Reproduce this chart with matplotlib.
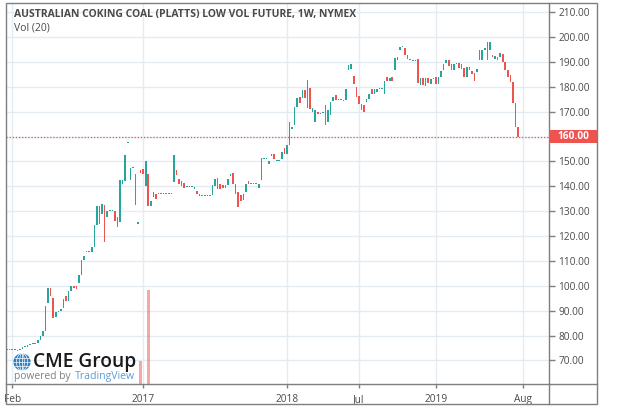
import numpy as np
import matplotlib.pyplot as plt
import matplotlib.transforms as mtransforms
from matplotlib.patches import Rectangle, Circle, Ellipse
from matplotlib.lines import Line2D

plt.rcParams['font.family'] = ['Open Sans', 'DejaVu Sans']

title = 'AUSTRALIAN COKING COAL (PLATTS) LOW VOL FUTURE, 1W, NYMEX'

# weekly candles, Feb 2016 -> end of Jul 2019
opens = [
    74, 74, 74, 74, 74.3, 74, 74.6, 75.2, 75.5, 76.3,
    76.5, 76.5, 77, 78, 80, 82, 93, 99, 95, 87.5,
    89.5, 90, 91, 96, 94, 98, 100, 100, 101, 104.4,
    110.4, 113.6, 113.6, 113.6, 115.6, 124.5, 132, 129, 132.5, 127.7,
    130, 130, 130, 127.7, 125.6, 141, 142, 157.5, 142.5, 147.5,
    145, 125, 146.5, 147, 140, 145, 132, 137.8, 137, 137,
    137, 137, 137, 137, 137, 141.7, 146.5, 143, 142, 141.5,
    139.6, 139.6, 139.6, 139, 138, 137, 136, 136, 136, 136,
    136.5, 140, 143.5, 141, 140.7, 140.7, 140.7, 144, 145.5, 141,
    137.8, 136.6, 134.5, 137.8, 142, 141, 141, 141, 139.5, 142.5,
    151, 151, 149, 152, 153, 150, 150, 151, 155.5, 153,
    # 2018
    156.6, 163, 164.6, 172, 176, 175.5, 178.7, 171.5, 179.5, 170,
    166, 170, 169, 169.5, 172.5, 166, 168.6, 174.5, 176.6, 174.6,
    174.6, 174.8, 174.6, 186.7, 187.3, 184.4, 180, 176.5, 173.3, 172.6,
    174, 175.3, 179, 177, 178, 179, 179, 177, 184, 182.5,
    184, 186.7, 190.8, 194.7, 196, 195.5, 193, 191.4, 190.5, 190.5,
    # 2019
    191, 180.7, 183.5, 180.5, 183.5, 181, 183.3, 184, 181, 184,
    186.6, 189.6, 190.6, 189, 186.7, 189, 189.6, 189, 187.6, 184,
    188, 186.5, 185.5, 186, 190.7, 190.7, 195, 198, 195, 193,
    191, 192, 192, 193.4, 190, 186.6, 184.7, 182, 173.6, 164,
]
closes = [
    74, 74, 74, 74, 73.8, 74.6, 75.2, 75.3, 76.3, 76.5,
    76.5, 77, 78, 80, 82, 92, 99, 96, 87, 89.5,
    90, 90.5, 94.5, 94, 98, 100, 99, 98.7, 104.4, 110.4,
    112, 113.6, 113.6, 115.6, 124.5, 132, 125, 133, 117.6, 130,
    130, 130, 126, 123.6, 142.5, 142.5, 152.6, 157.5, 147.5, 147.5,
    132.5, 125, 145.5, 145, 150, 132, 134, 135.8, 135, 137,
    137, 137, 137, 137, 137.5, 152.6, 144.5, 141, 140, 139.5,
    139.6, 139.6, 139.6, 139.8, 137, 136, 136, 136, 136, 136,
    140.5, 143, 138.8, 138.8, 139.5, 139.5, 143, 145, 141, 137,
    131.8, 134, 137, 141, 141, 141, 141, 141, 141, 151.3,
    151, 151, 150, 153, 151, 150, 150, 154, 153, 156.6,
    # 2018
    166, 164, 172, 175.6, 173.5, 178.7, 175.5, 182.7, 171, 171.5,
    170.5, 169, 169.5, 170, 164.6, 170.5, 174, 176, 174.6, 174.6,
    174.6, 174.4, 179, 188.7, 189, 181, 176, 173.3, 170.6, 170,
    175.3, 177, 177, 179, 179, 179, 179, 182.5, 182.5, 183.5,
    182.5, 191.5, 192, 196, 196.5, 192.8, 191, 190.6, 190.5, 190.5,
    # 2019
    181.5, 183.5, 180.7, 183.5, 181.5, 183.3, 183.3, 181, 184, 186.4,
    189, 190.6, 188.4, 186.7, 189, 189.4, 187.6, 187, 184, 188,
    186.7, 185, 182.5, 187, 194.7, 195, 195, 190.7, 198, 192,
    192.5, 190.7, 193.5, 190, 186.6, 184, 182, 173.6, 164, 160,
]

# Vol (20) pane: only two weeks traded volume
vol_weeks = [52, 55]
vol_values = [20, 82]

month_ticks = [2, 53, 109, 137, 167, 201]
month_labels = ['Feb', '2017', '2018', 'Jul', '2019', 'Aug']
price_ticks = np.arange(70, 211, 10)

UP = '#26a69a'
DOWN = '#ef5350'
FRAME = '#7f7f7f'
GRID = '#e4ecf2'
TXT = '#4a4a4a'

W, H = 640, 408
fig = plt.figure(figsize=(W / 100, H / 100), dpi=100)

# plot pane in pixels: x 6..548.7, y 3.3..384
ax = fig.add_axes([6 / W, 1 - 384 / H, 542.7 / W, 380.7 / H])
vax = ax.twinx()

o = np.array(opens)
c = np.array(closes)
x = np.arange(len(o))
up = c >= o
colors = np.where(up, UP, DOWN)
ax.bar(x, np.maximum(np.abs(c - o), 0.45), bottom=np.minimum(o, c),
       width=0.62, color=colors, linewidth=0, zorder=3)

vax.bar(vol_weeks, vol_values, width=1.15, color=DOWN, alpha=0.5, linewidth=0)
vax.set_ylim(0, 332)
vax.axis('off')

ax.set_xlim(-0.4, 210.9)
ax.set_ylim(60.5, 213.6)
ax.set_xticks(month_ticks)
ax.set_xticklabels(month_labels)
ax.set_yticks(price_ticks)
ax.set_yticklabels(['%.2f' % p for p in price_ticks])
ax.yaxis.tick_right()
ax.grid(True, color=GRID, linewidth=1, zorder=0)
ax.set_axisbelow(True)
for s in ['left', 'top']:
    ax.spines[s].set_visible(False)
for s in ['right', 'bottom']:
    ax.spines[s].set_color(FRAME)
    ax.spines[s].set_linewidth(1)
ax.tick_params(axis='y', length=4, width=1, color=FRAME, pad=3,
               labelsize=7.3, labelcolor=TXT)
ax.tick_params(axis='x', length=3, width=1, color=FRAME, pad=4,
               labelsize=7.3, labelcolor=TXT)

# last price line and tag
last = closes[-1]
ax.axhline(last, color=DOWN, linestyle=(0, (1, 1.5)), linewidth=0.9, zorder=2)
blend = mtransforms.blended_transform_factory(ax.transAxes, ax.transData)
ax.add_patch(Rectangle((1.0, last - 2.75), 48.3 / 542.7, 5.5, transform=blend,
                       facecolor=DOWN, edgecolor='none', clip_on=False, zorder=10))
ax.text(1.0 + 8.5 / 542.7, last, '%.2f' % last, transform=blend, ha='left',
        va='center', color='white', fontsize=7.3, fontweight='bold',
        clip_on=False, zorder=11)

# outer frame, price-scale and time-scale boxes
fig.add_artist(Rectangle((6 / W, 1 - 404 / H), 591 / W, 400.7 / H,
                         transform=fig.transFigure, fill=False,
                         edgecolor=FRAME, linewidth=1))
fig.add_artist(Line2D([548.7 / W, 597 / W], [1 - 384 / H, 1 - 384 / H],
                      transform=fig.transFigure, color=FRAME, linewidth=1))
fig.add_artist(Line2D([548.7 / W, 548.7 / W], [1 - 404 / H, 1 - 384 / H],
                      transform=fig.transFigure, color=FRAME, linewidth=1))

fig.text(14 / W, 1 - 15 / H, title, fontsize=7.5, fontweight='bold',
         color=TXT, va='center')
fig.text(14 / W, 1 - 28 / H, 'Vol (20)', fontsize=7.5, color=TXT, va='center')

# CME Group / TradingView watermark
gax = fig.add_axes([13 / W, 1 - 371 / H, 18 / W, 18 / H])
gax.set_xlim(-1.05, 1.05)
gax.set_ylim(-1.05, 1.05)
gax.set_aspect('equal')
gax.axis('off')
gax.add_patch(Circle((0, 0), 1, facecolor='#2b7fc3', edgecolor='none'))
for w in [0.55, 1.3]:
    gax.add_patch(Ellipse((0, 0), w, 2, fill=False, edgecolor='white', linewidth=0.5))
gax.plot([0, 0], [-1, 1], color='white', linewidth=0.5)
for yy in [-0.5, 0, 0.5]:
    hw = np.sqrt(1 - yy ** 2)
    gax.plot([-hw, hw], [yy, yy], color='white', linewidth=0.5)

fig.text(33 / W, 1 - 362 / H, 'CME Group', fontsize=13.8, fontweight='semibold',
         color='#1a1a1a', va='center')
fig.text(14 / W, 1 - 377 / H, 'powered by', fontsize=7.4, color='#808080', va='center')
fig.text(75 / W, 1 - 377 / H, 'TradingView', fontsize=7.6, color='#5b9cd6', va='center')

fig.savefig('out.png', dpi=100)
